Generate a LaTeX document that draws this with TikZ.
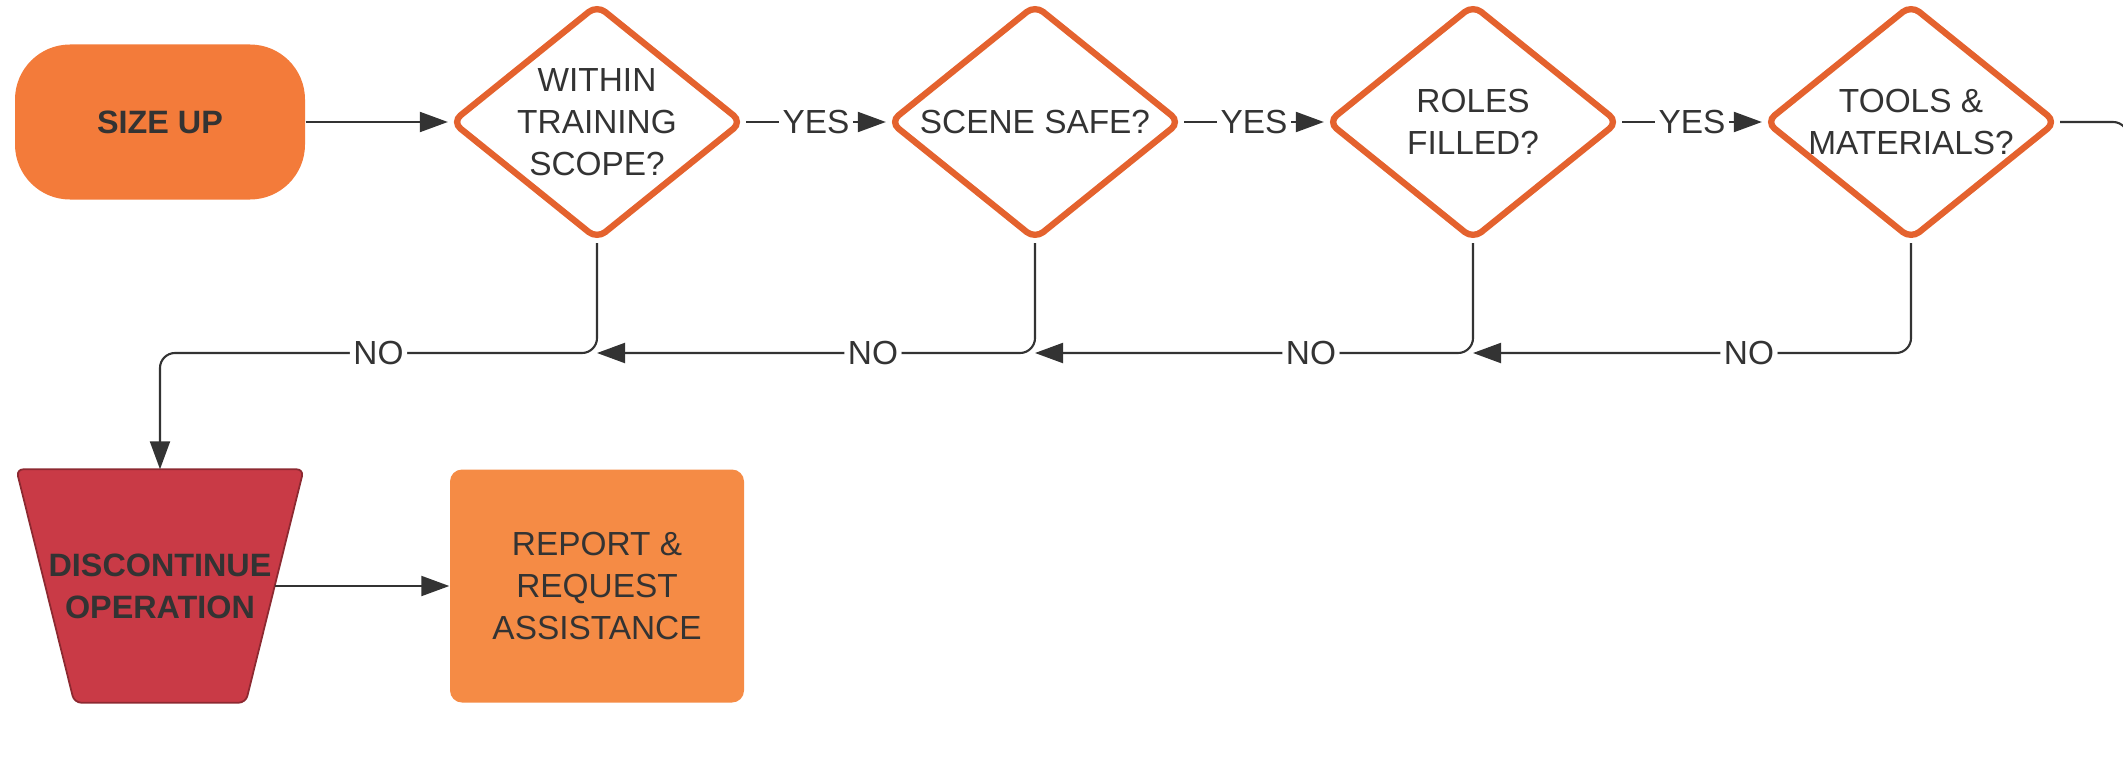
\documentclass[tikz,border=0pt]{standalone}
\usepackage{fontspec}
\setmainfont{Liberation Sans}
\usepackage{xcolor}
\usepackage{tikz}
\usetikzlibrary{shapes.geometric,arrows.meta,backgrounds}
\definecolor{sizeorange}{HTML}{F37B3A}
\definecolor{edgeorange}{HTML}{E4622E}
\definecolor{stopred}{HTML}{C93A46}
\definecolor{boxorange}{HTML}{F58B45}
\definecolor{ink}{HTML}{333333}

\begin{document}
\begin{tikzpicture}[font=\fontsize{9.5}{12}\selectfont, text=ink,
		flow/.style={draw=ink, line width=0.6pt, -{Triangle[length=2.8mm,width=2mm]}},
		wire/.style={draw=ink, line width=0.6pt},
		decision/.style={diamond, draw=edgeorange, line width=1.8pt, fill=white, rounded corners=3pt, minimum width=2.92cm, minimum height=2.36cm, inner sep=0pt},
		tag/.style={fill=white, inner sep=1pt}]
			\useasboundingbox (0,0) rectangle (21.23,7.70);
			\clip (0,0) rectangle (21.23,7.70);
			\node[fill=sizeorange, rounded corners=0.55cm, minimum width=2.9cm, minimum height=1.55cm, font=\fontsize{9.2}{12}\selectfont\bfseries] (sizeup) at (1.60,6.48) {SIZE UP};
			\node[decision, label={[align=center]center:WITHIN\\TRAINING\\SCOPE?}] (scope) at (5.97,6.48) {};
			\node[decision, label={center:SCENE SAFE?}] (safe) at (10.35,6.48) {};
			\node[decision, label={[align=center]center:ROLES\\FILLED?}] (roles) at (14.73,6.48) {};
			\node[decision, label={[align=center]center:TOOLS \&\\MATERIALS?}] (tools) at (19.11,6.48) {};
			\node[minimum width=2.28cm, minimum height=2.32cm, inner sep=0pt, align=center, font=\fontsize{9.2}{12}\selectfont\bfseries] (stop) at (1.60,1.84) {DISCONTINUE\\OPERATION};
			\begin{scope}[on background layer]
				\filldraw[fill=stopred, draw=stopred!70!black, line width=0.5pt, rounded corners=2pt] ([xshift=-0.29cm]stop.north west) -- ([xshift=0.29cm]stop.north east) -- ([xshift=-0.29cm]stop.south east) -- ([xshift=0.29cm]stop.south west) -- cycle;
			\end{scope}
			\node[fill=boxorange, rounded corners=0.12cm, minimum width=2.94cm, minimum height=2.33cm, align=center] (report) at (5.97,1.84) {REPORT \&\\REQUEST\\ASSISTANCE};
			\coordinate (lane) at (0,4.17);
			\coordinate (offpage) at (21.28,4.17);
			\draw[flow] (sizeup.east) -- (scope.west);
			\draw[flow] (scope.east) -- node[tag]{YES} (safe.west);
			\draw[flow] (safe.east) -- node[tag]{YES} (roles.west);
			\draw[flow] (roles.east) -- node[tag]{YES} (tools.west);
			\draw[wire, rounded corners=0.15cm] (tools.east) -| (offpage);
			\draw[flow, rounded corners=0.15cm] (scope.south) |- (lane -| stop.north) node[tag, pos=0.75]{NO} -- (stop.north);
			\draw[flow, rounded corners=0.15cm] (safe.south) |- (lane -| scope.south) node[tag, pos=0.685]{NO};
			\draw[flow, rounded corners=0.15cm] (roles.south) |- (lane -| safe.south) node[tag, pos=0.685]{NO};
			\draw[flow, rounded corners=0.15cm] (tools.south) |- (lane -| roles.south) node[tag, pos=0.685]{NO};
			\draw[flow] (stop.east) -- (report.west);
		\end{tikzpicture}
\end{document}
